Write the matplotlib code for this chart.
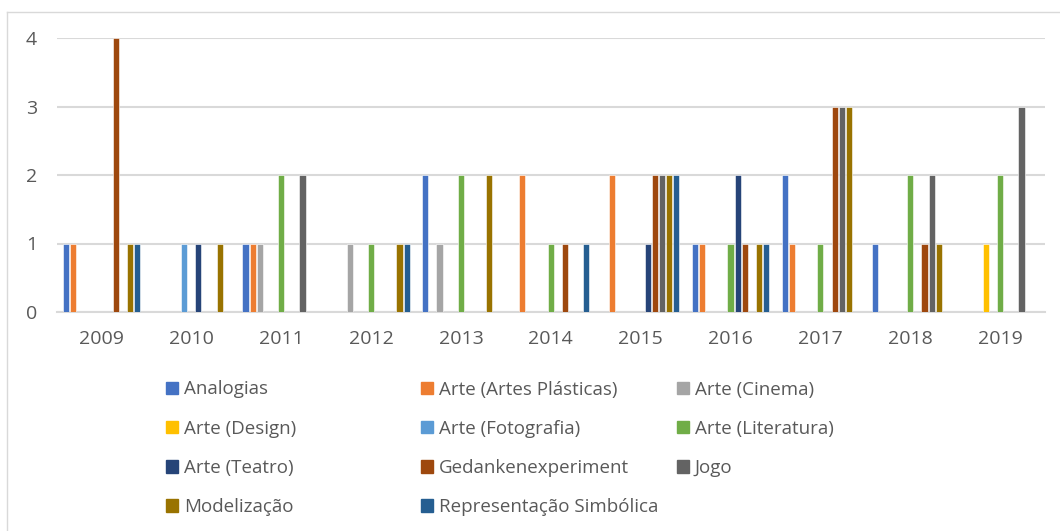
import matplotlib
matplotlib.use("Agg")
import matplotlib.pyplot as plt
import numpy as np
from matplotlib.lines import Line2D
from matplotlib.patches import Patch

years = ["2009", "2010", "2011", "2012", "2013", "2014", "2015", "2016", "2017", "2018", "2019"]
series_names = ["Analogias", "Arte (Artes Plásticas)", "Arte (Cinema)", "Arte (Design)",
                "Arte (Fotografia)", "Arte (Literatura)", "Arte (Teatro)",
                "Gedankenexperiment", "Jogo", "Modelização", "Representação Simbólica"]
colors = ["#4472C4", "#ED7D31", "#A5A5A5", "#FFC000", "#5B9BD5", "#70AD47",
          "#264478", "#9E480E", "#636363", "#997300", "#255E91"]

analogias        = [1, 0, 1, 0, 2, 0, 0, 1, 2, 1, 0]
artes_plasticas  = [1, 0, 1, 0, 0, 2, 2, 1, 1, 0, 0]
cinema           = [0, 0, 1, 1, 1, 0, 0, 0, 0, 0, 0]
design           = [0, 0, 0, 0, 0, 0, 0, 0, 0, 0, 1]
fotografia       = [0, 1, 0, 0, 0, 0, 0, 0, 0, 0, 0]
literatura       = [0, 0, 2, 1, 2, 1, 0, 1, 1, 2, 2]
teatro           = [0, 1, 0, 0, 0, 0, 1, 2, 0, 0, 0]
gedanken         = [4, 0, 0, 0, 0, 1, 2, 1, 3, 1, 0]
jogo             = [0, 0, 2, 0, 0, 0, 2, 0, 3, 2, 3]
modelizacao      = [1, 1, 0, 1, 2, 0, 2, 1, 3, 1, 0]
repr_simbolica   = [1, 0, 0, 1, 0, 1, 2, 1, 0, 0, 0]

series = [analogias, artes_plasticas, cinema, design, fotografia, literatura,
          teatro, gedanken, jogo, modelizacao, repr_simbolica]

plt.rcParams['font.family'] = ['Open Sans', 'DejaVu Sans']
txt = "#595959"

W, H = 1060, 531
fig = plt.figure(figsize=(W / 100, H / 100), dpi=100)
# chart-area border (left and top edges visible)
fig.add_artist(Line2D([7 / W, 7 / W], [0, 1 - 12 / H], transform=fig.transFigure,
                      color="#D9D9D9", lw=1.0))
fig.add_artist(Line2D([7 / W, 1], [1 - 12 / H, 1 - 12 / H], transform=fig.transFigure,
                      color="#D9D9D9", lw=1.0))

ax = fig.add_axes([56.5 / W, 1 - 312 / H, (1045 - 56.5) / W, (312 - 38) / H])
x = np.arange(len(years))
n = len(series)
step = 0.0793
bw = 0.068
handles = []
for k, (vals, c) in enumerate(zip(series, colors)):
    ax.bar(x + (k - (n - 1) / 2) * step, vals, width=bw, color=c,
           edgecolor="white", linewidth=0.4, zorder=3)
    handles.append(Patch(facecolor=c, edgecolor=c))

ax.set_xlim(-0.5, len(years) - 0.5)
ax.set_ylim(0, 4)
ax.set_yticks([0, 1, 2, 3, 4])
ax.set_xticks(x)
ax.set_xticklabels(years)
ax.yaxis.grid(True, color="#D9D9D9", lw=1.5, zorder=0)
ax.set_axisbelow(True)
for s in ["top", "right", "left"]:
    ax.spines[s].set_visible(False)
ax.spines["bottom"].set_color("#D9D9D9")
ax.spines["bottom"].set_linewidth(1.5)
ax.tick_params(length=0, colors=txt, labelsize=14)
ax.tick_params(axis="y", pad=14)
ax.tick_params(axis="x", pad=13)

cols = [[0, 3, 6, 9], [1, 4, 7, 10], [2, 5, 8]]
col_x = [166, 421, 677]
for ci, idxs in enumerate(cols):
    fig.legend([handles[i] for i in idxs], [series_names[i] for i in idxs],
               loc="upper left", bbox_to_anchor=(col_x[ci] / W, 1 - 380.5 / H),
               frameon=False, fontsize=13.5, labelcolor=txt,
               handlelength=0.65, handleheight=0.65, handletextpad=0.3,
               labelspacing=1.13, borderpad=0, borderaxespad=0)

fig.savefig("out.png", dpi=100)
